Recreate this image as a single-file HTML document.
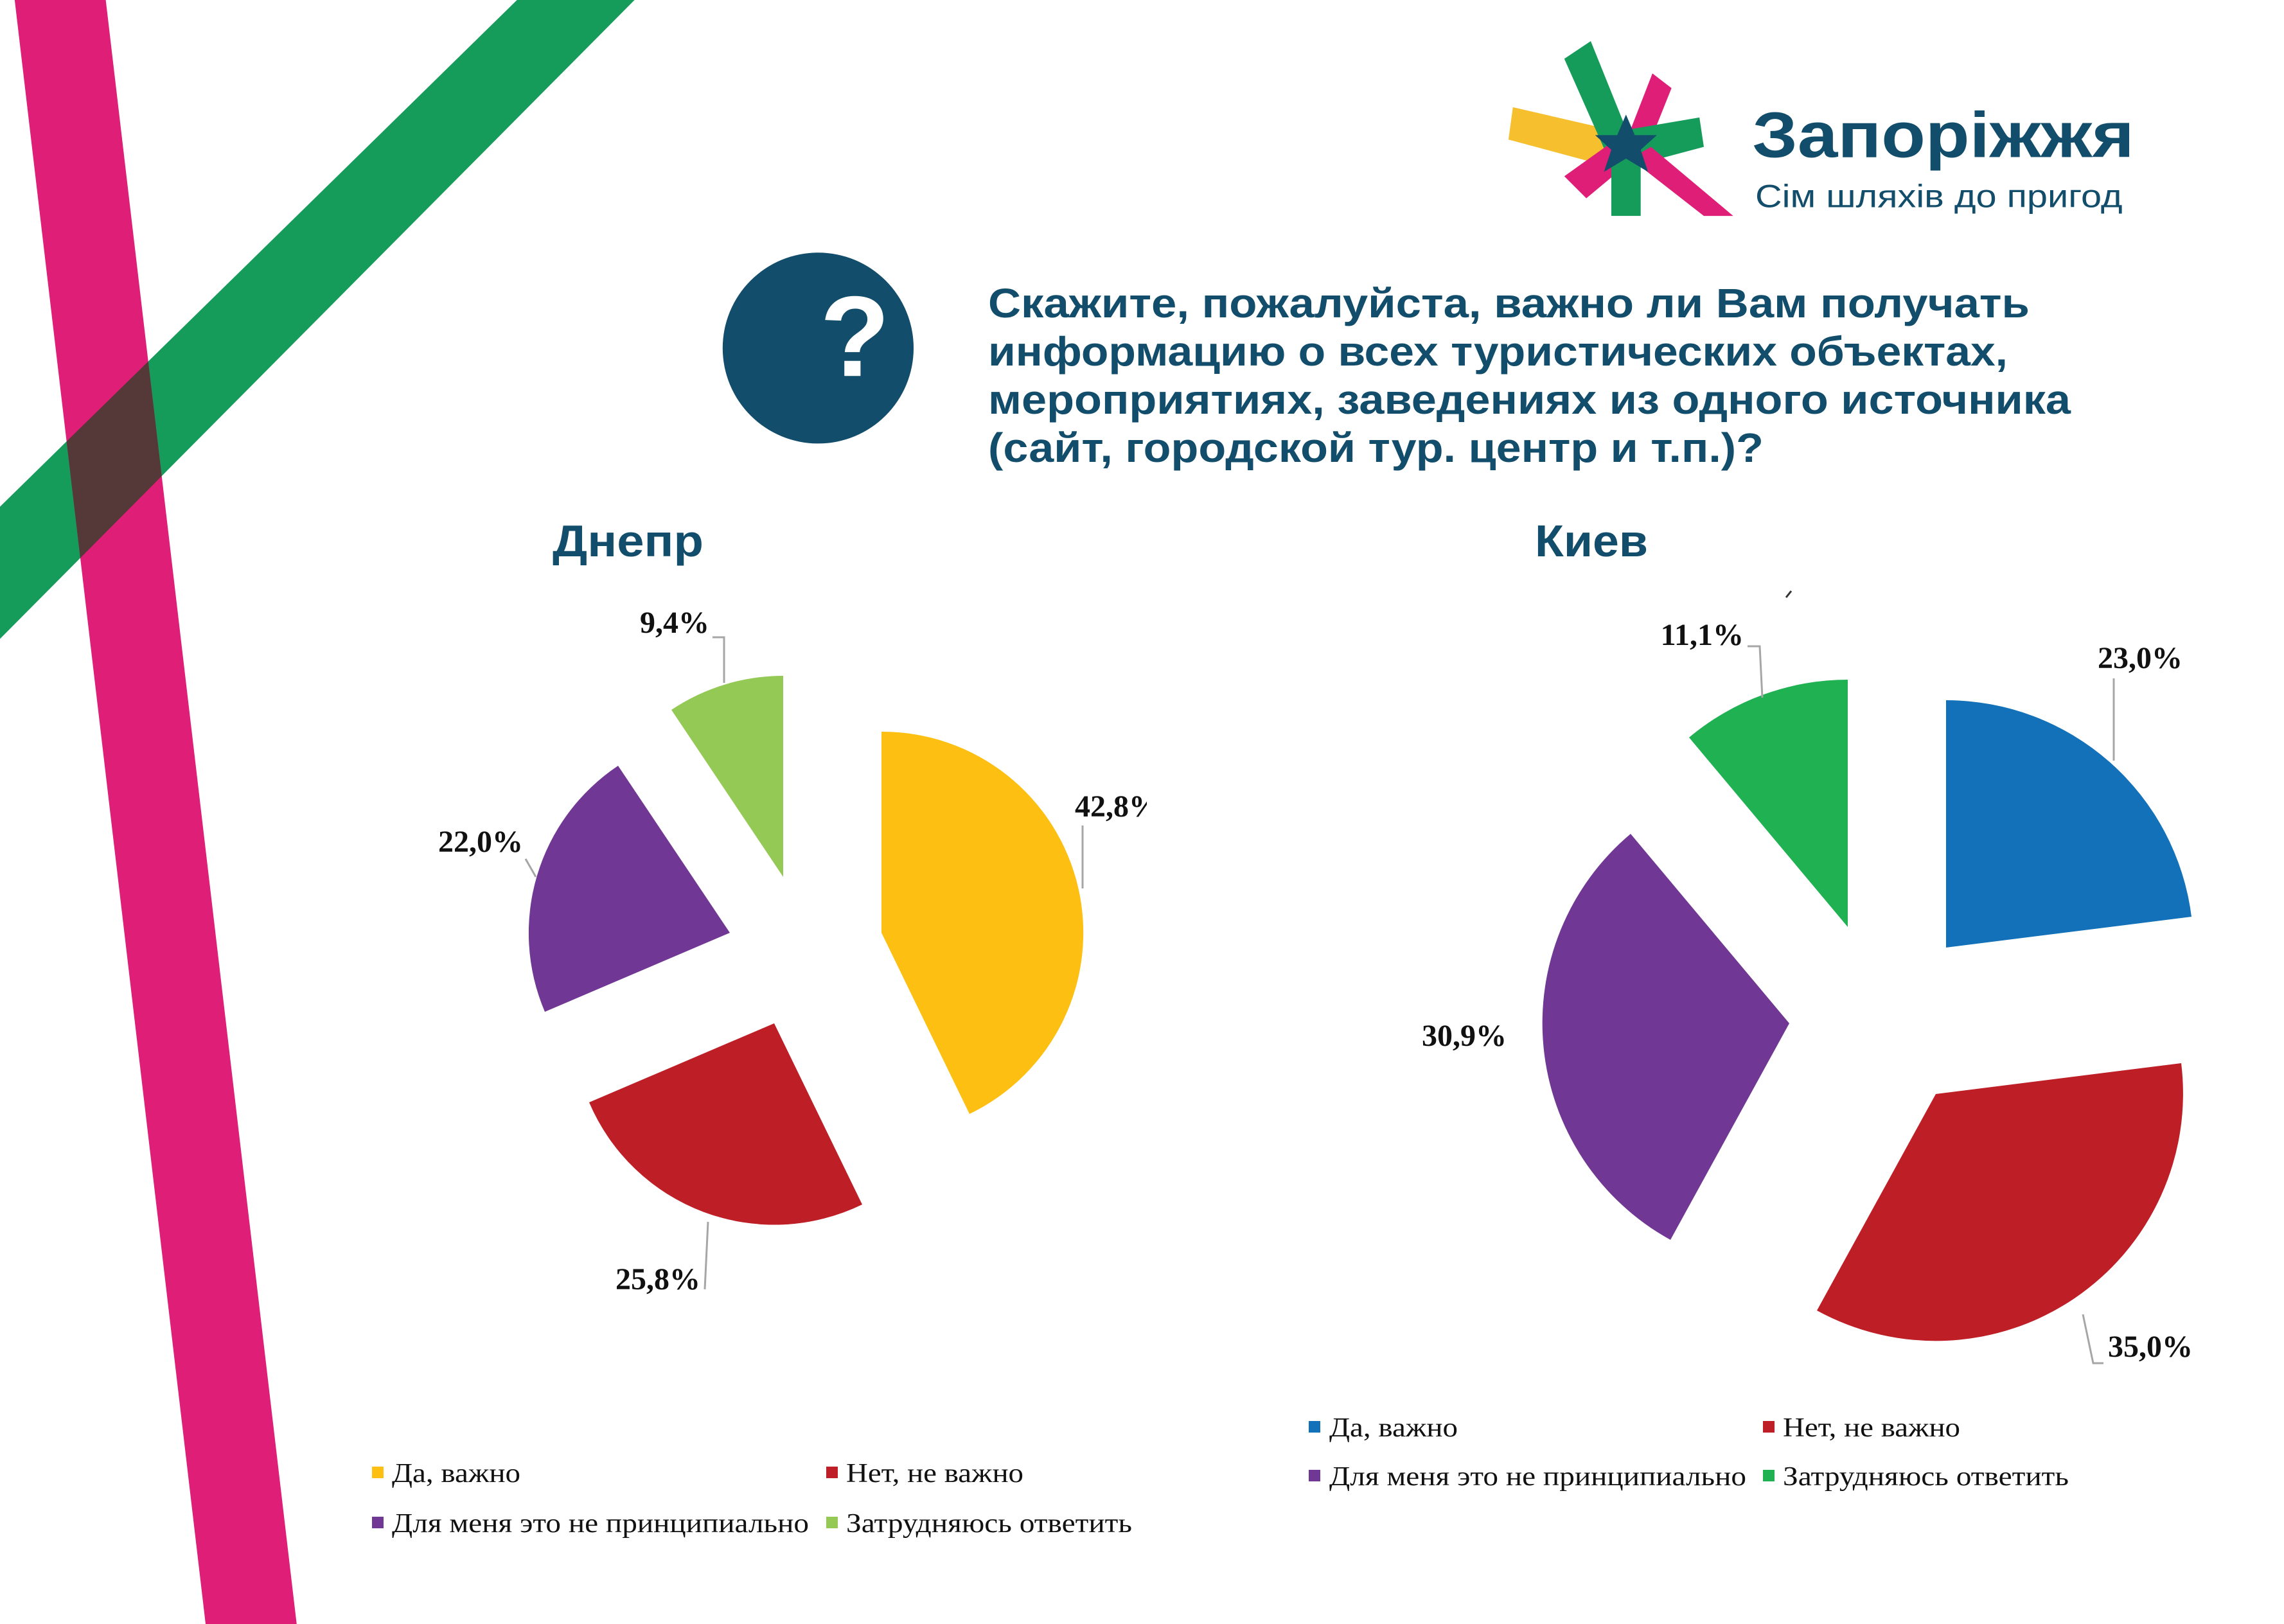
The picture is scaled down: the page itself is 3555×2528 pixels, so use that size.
<!DOCTYPE html>
<html><head><meta charset="utf-8"><style>html,body{margin:0;padding:0;background:#fff}svg{display:block}</style></head>
<body>
<svg width="3555" height="2528" viewBox="0 0 3555 2528" xmlns="http://www.w3.org/2000/svg">
<defs><clipPath id="pk"><polygon points="10,0 72,0 202,1106 140,1106"/></clipPath></defs>
<g transform="scale(2.2862)">
  <polygon points="352,0 432,0 0,435 0,345" fill="#169c5a"/>
  <polygon points="10,0 72,0 202,1106 140,1106" fill="#df1f77"/>
  <polygon points="352,0 432,0 0,435 0,345" fill="#553838" clip-path="url(#pk)"/>
  <g>
  <polygon points="1030,73 1095,88 1090,112 1027,95" fill="#f6bf2e"/>
  <polygon points="1065,40 1083,28 1112,100 1096,110" fill="#169c5a"/>
  <polygon points="1125,50 1138,60 1118,110 1104,104" fill="#df1f77"/>
  <polygon points="1110,88 1157,80 1160,100 1115,112" fill="#169c5a"/>
  <polygon points="1110,108 1124,100 1180,147 1160,147" fill="#df1f77"/>
  <polygon points="1065,120 1100,95 1110,110 1080,135" fill="#df1f77"/>
  <rect x="1097" y="108" width="20" height="39" fill="#169c5a"/>
  <polygon points="1107,78 1113,92 1128,92 1117,102 1122,117 1107,108 1092,117 1097,102 1086,92 1101,92" fill="#124d6b"/>
  </g>
  <text x="1193" y="107" font-family="'Liberation Sans',sans-serif" font-weight="bold" font-size="44" fill="#124d6b" textLength="260" lengthAdjust="spacingAndGlyphs">Запоріжжя</text>
  <text x="1195" y="141" font-family="'Liberation Sans',sans-serif" font-size="22" fill="#124d6b" textLength="250" lengthAdjust="spacingAndGlyphs">Сім шляхів до пригод</text>
  <circle cx="557" cy="237" r="65" fill="#124d6b"/>
  <text x="582" y="256" text-anchor="middle" font-family="'Liberation Sans',sans-serif" font-weight="bold" font-size="78" fill="#fff">?</text>
</g>
<g font-family="'Liberation Sans',sans-serif" font-weight="bold" fill="#124d6b" font-size="64">
  <text x="1538" y="494" textLength="1621" lengthAdjust="spacingAndGlyphs">Скажите, пожалуйста, важно ли Вам получать</text>
  <text x="1538" y="569" textLength="1587" lengthAdjust="spacingAndGlyphs">информацию о всех туристических объектах,</text>
  <text x="1538" y="644" textLength="1685" lengthAdjust="spacingAndGlyphs">мероприятиях, заведениях из одного источника</text>
  <text x="1538" y="719" textLength="1207" lengthAdjust="spacingAndGlyphs">(сайт, городской тур. центр и т.п.)?</text>
  <text x="860" y="866" font-size="70" textLength="235" lengthAdjust="spacingAndGlyphs">Днепр</text>
  <text x="2389" y="866" font-size="70" textLength="176" lengthAdjust="spacingAndGlyphs">Киев</text>
</g>
<path d="M1372,1452 L1372,1139 A313,313 0 0 1 1509,1734 Z" fill="#fdbf12"/>
<path d="M1205,1593 L1342,1875 A313,313 0 0 1 917,1716 Z" fill="#be1e26"/>
<path d="M1136,1452 L848,1575 A313,313 0 0 1 962,1192 Z" fill="#703794"/>
<path d="M1219,1365 L1045,1105 A313,313 0 0 1 1219,1052 Z" fill="#94c955"/>
<path d="M3029,1475 L3029,1090 A385,385 0 0 1 3411,1427 Z" fill="#1271b8"/>
<path d="M3013,1703 L3395,1655 A385,385 0 0 1 2828,2040 Z" fill="#be1e26"/>
<path d="M2785,1593 L2600,1930 A385,385 0 0 1 2538,1298 Z" fill="#703794"/>
<path d="M2876,1443 L2629,1148 A385,385 0 0 1 2876,1058 Z" fill="#1fb152"/>
<g stroke="#a6a6a6" stroke-width="3" fill="none">
  <polyline points="1685,1285 1685,1383"/>
  <polyline points="1109,992 1127,992 1127,1063"/>
  <polyline points="818,1337 834,1365"/>
  <polyline points="1097,2007 1102,1902"/>
  <polyline points="3290,1056 3290,1184"/>
  <polyline points="2720,1006 2739,1006 2743,1086"/>
  <polyline points="3242,2046 3258,2122 3274,2122"/>
</g>
<line x1="2780" y1="930" x2="2788" y2="920" stroke="#333" stroke-width="3"/>
<g font-family="'Liberation Serif',serif" font-weight="bold" font-size="48" fill="#111">
  <svg x="0" y="0" width="1785" height="2528" overflow="hidden"><text x="1673" y="1271" font-family="'Liberation Serif',serif" font-weight="bold" font-size="48">42,8%</text></svg>
  <text x="1104" y="985" text-anchor="end">9,4%</text>
  <text x="814" y="1326" text-anchor="end">22,0%</text>
  <text x="1090" y="2007" text-anchor="end">25,8%</text>
  <text x="3265" y="1040">23,0%</text>
  <text x="2714" y="1004" text-anchor="end">11,1%</text>
  <text x="2213" y="1628">30,9%</text>
  <text x="3281" y="2112">35,0%</text>
</g>
<g font-family="'Liberation Serif',serif" font-size="42" fill="#111">
  <rect x="579" y="2283" width="18" height="18" fill="#fdbf12"/>
  <text x="610" y="2307" textLength="200" lengthAdjust="spacingAndGlyphs">Да, важно</text>
  <rect x="1286" y="2283" width="18" height="18" fill="#be1e26"/>
  <text x="1317" y="2307" textLength="276" lengthAdjust="spacingAndGlyphs">Нет, не важно</text>
  <rect x="579" y="2361" width="18" height="18" fill="#703794"/>
  <text x="610" y="2385" textLength="649" lengthAdjust="spacingAndGlyphs">Для меня это не принципиально</text>
  <rect x="1286" y="2361" width="18" height="18" fill="#94c955"/>
  <text x="1317" y="2385" textLength="445" lengthAdjust="spacingAndGlyphs">Затрудняюсь ответить</text>

  <rect x="2037" y="2212" width="18" height="18" fill="#1271b8"/>
  <text x="2069" y="2236" textLength="200" lengthAdjust="spacingAndGlyphs">Да, важно</text>
  <rect x="2744" y="2212" width="18" height="18" fill="#be1e26"/>
  <text x="2775" y="2236" textLength="276" lengthAdjust="spacingAndGlyphs">Нет, не важно</text>
  <rect x="2037" y="2288" width="18" height="18" fill="#703794"/>
  <text x="2069" y="2312" textLength="649" lengthAdjust="spacingAndGlyphs">Для меня это не принципиально</text>
  <rect x="2744" y="2288" width="18" height="18" fill="#1fb152"/>
  <text x="2775" y="2312" textLength="445" lengthAdjust="spacingAndGlyphs">Затрудняюсь ответить</text>
</g>
</svg>
</body></html>
